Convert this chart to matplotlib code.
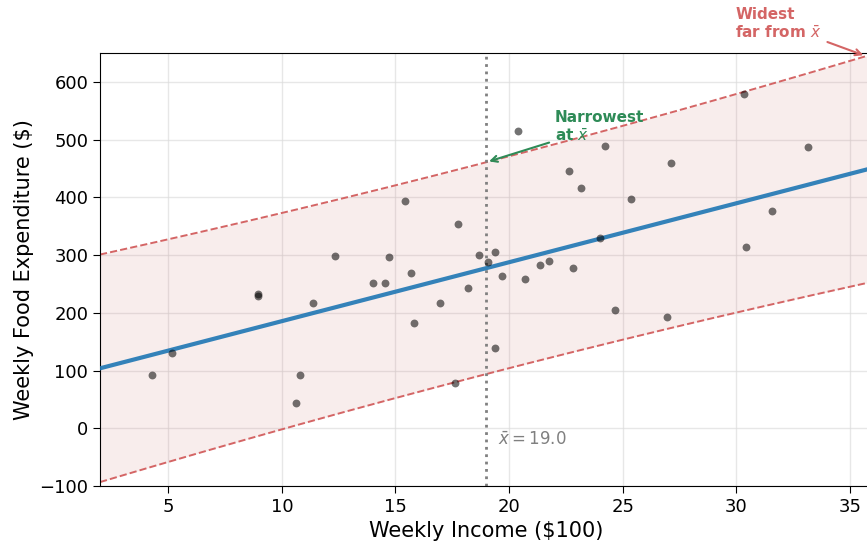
import numpy as np
import matplotlib
matplotlib.use("Agg")
import matplotlib.pyplot as plt

income = [4.28, 5.18, 8.97, 8.95, 10.82, 10.64, 11.38, 12.34, 14.0, 14.56,
          14.71, 15.42, 15.70, 15.8, 16.98, 17.6, 17.73, 18.18, 18.67, 19.09,
          19.37, 19.4, 19.68, 20.37, 20.69, 21.37, 21.76, 22.63, 22.8, 23.16,
          23.98, 24.23, 24.64, 25.38, 26.94, 27.1, 30.33, 30.43, 31.58, 33.15]
food_exp = [92.7, 131, 231.9, 229, 91.6, 44, 216.2, 298, 251, 252,
            297, 394.2, 269.6, 182.6, 216.2, 77.7, 353.6, 242.3, 300.3, 287.5,
            139.7, 304.9, 263.2, 514.8, 259.1, 282.9, 289.9, 445.2, 277.1, 416.2,
            328.7, 489.3, 204.7, 396.5, 192.5, 459.1, 579.7, 314.2, 376.8, 487]
x_range = [2, 36]
y_range = [-100, 650]
x_ticks = [5, 10, 15, 20, 25, 30, 35]
y_ticks = [-100, 0, 100, 200, 300, 400, 500, 600]

# fitted line and prediction-interval parameters (as shown in the chart)
b0 = 83.42
b1 = 10.21
s_err = 89.52
sxx = 1828.79
t_crit = 2.024

x = np.array(income)
y = np.array(food_exp)
n = len(x)
xbar = x.mean()

xs = np.linspace(x_range[0], x_range[1], 300)
yhat = b0 + b1 * xs
half = t_crit * s_err * np.sqrt(1 + 1 / n + (xs - xbar) ** 2 / sxx)
upper = yhat + half
lower = yhat - half

fig = plt.figure(figsize=(8.67, 5.42), dpi=100)
ax = fig.add_axes([100 / 867, 1 - 486 / 542, 772.8 / 867, 433 / 542])

red = "#d46565"
ax.fill_between(xs, lower, upper, color="#c0504d", alpha=0.10, lw=0, zorder=1)
ax.plot(xs, upper, ls="--", color=red, lw=1.4, zorder=2)
ax.plot(xs, lower, ls="--", color=red, lw=1.4, zorder=2)
ax.plot(xs, yhat, color="#1f77b4", lw=3, alpha=0.9, zorder=3)
ax.scatter(x, y, s=32, color="black", alpha=0.55, lw=0, zorder=4)
ax.axvline(xbar, color="gray", ls=":", lw=2, zorder=2)
ax.text(xbar + 0.5, -20, r"$\bar{x} = %.1f$" % xbar, color="gray",
        fontsize=12, va="center", ha="left")

up_bar = b0 + b1 * xbar + t_crit * s_err * np.sqrt(1 + 1 / n)
ax.annotate("Narrowest\nat $\\bar{x}$", xy=(xbar, up_bar), xytext=(22.0, 522),
            color="#2e8b57", fontsize=11, fontweight="bold", ha="left", va="center",
            arrowprops=dict(arrowstyle="->", color="#2e8b57", lw=1.5))
x_edge = 35.7
up_edge = b0 + b1 * x_edge + t_crit * s_err * np.sqrt(1 + 1 / n + (x_edge - xbar) ** 2 / sxx)
ax.annotate("Widest\nfar from $\\bar{x}$", xy=(x_edge, up_edge),
            xytext=(29.95, 700), color=red, fontsize=11, fontweight="bold",
            ha="left", va="center", annotation_clip=False,
            arrowprops=dict(arrowstyle="->", color=red, lw=1.5))

ax.set_xlim(x_range)
ax.set_ylim(y_range)
ax.set_xticks(x_ticks)
ax.set_yticks(y_ticks)
ax.tick_params(labelsize=13, length=5)
ax.grid(True, color="#dddddd", alpha=0.7, lw=1)
ax.set_axisbelow(True)
ax.set_xlabel("Weekly Income ($100)", fontsize=15)
ax.set_ylabel("Weekly Food Expenditure ($)", fontsize=15)

fig.savefig("out.png", dpi=100)
